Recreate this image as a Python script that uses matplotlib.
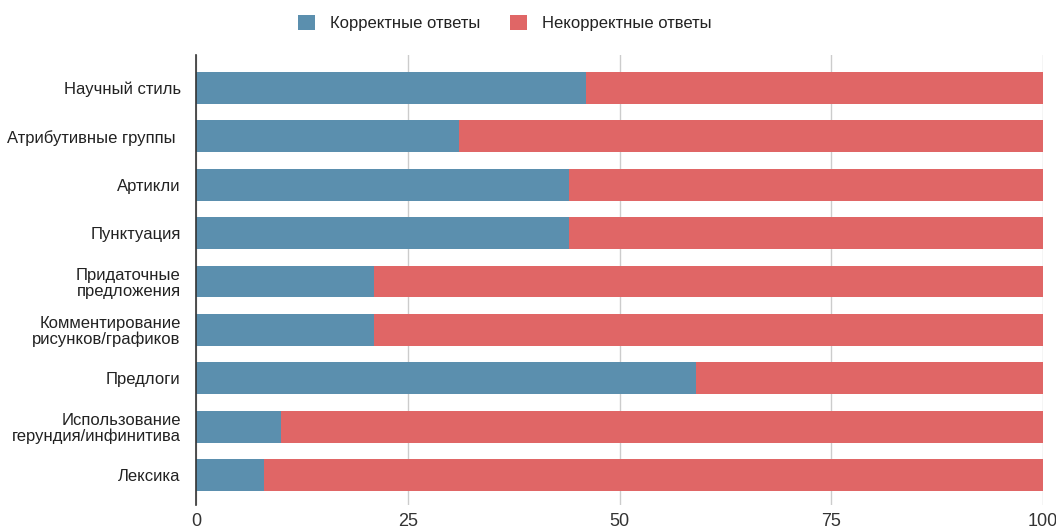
import numpy as np
import matplotlib.pyplot as plt

# Categories (top to bottom) and shares of correct / incorrect answers
categories = [
    "Научный стиль",
    "Атрибутивные группы ",
    "Артикли",
    "Пунктуация",
    "Придаточные\nпредложения",
    "Комментирование\nрисунков/графиков",
    "Предлоги",
    "Использование\nгерундия/инфинитива",
    "Лексика",
]
correct = [46, 31, 44, 44, 21, 21, 59, 10, 8]
incorrect = [100 - c for c in correct]
x_ticks = [0, 25, 50, 75, 100]

blue = "#5b8fae"
red = "#e06666"

plt.rcParams['font.family'] = ['Liberation Sans', 'DejaVu Sans']

fig = plt.figure(figsize=(10.56, 5.26), dpi=100)
ax = fig.add_axes([0.1856, 0.0399, 0.8021, 0.8555])

y = np.arange(len(categories))
ax.barh(y, correct, height=0.66, color=blue, label="Корректные ответы", zorder=3)
ax.barh(y, incorrect, left=correct, height=0.66, color=red, label="Некорректные ответы", zorder=3)

ax.set_yticks(y)
ax.set_yticklabels(categories, fontsize=12, color="#222222", linespacing=1.05)
ax.set_ylim(len(categories) - 1 + 0.62, -0.68)
ax.set_xlim(0, 100)
ax.set_xticks(x_ticks)
ax.set_xticklabels([str(t) for t in x_ticks], fontsize=13, color="#333333")
ax.tick_params(axis='y', length=0, pad=11)
ax.tick_params(axis='x', length=0, pad=6)
ax.grid(axis='x', color="#cccccc", linewidth=1, zorder=0)

for side in ['top', 'right', 'bottom']:
    ax.spines[side].set_visible(False)
ax.spines['left'].set_color("#333333")
ax.spines['left'].set_linewidth(1.2)
ax.spines['left'].set_zorder(4)

fig.legend(loc='upper center', bbox_to_anchor=(0.478, 1.0), ncol=2, frameon=False,
           fontsize=12, handlelength=1.0, handleheight=1.0, handletextpad=0.9,
           columnspacing=1.8, labelcolor="#222222")

fig.savefig("out.png", dpi=100)
